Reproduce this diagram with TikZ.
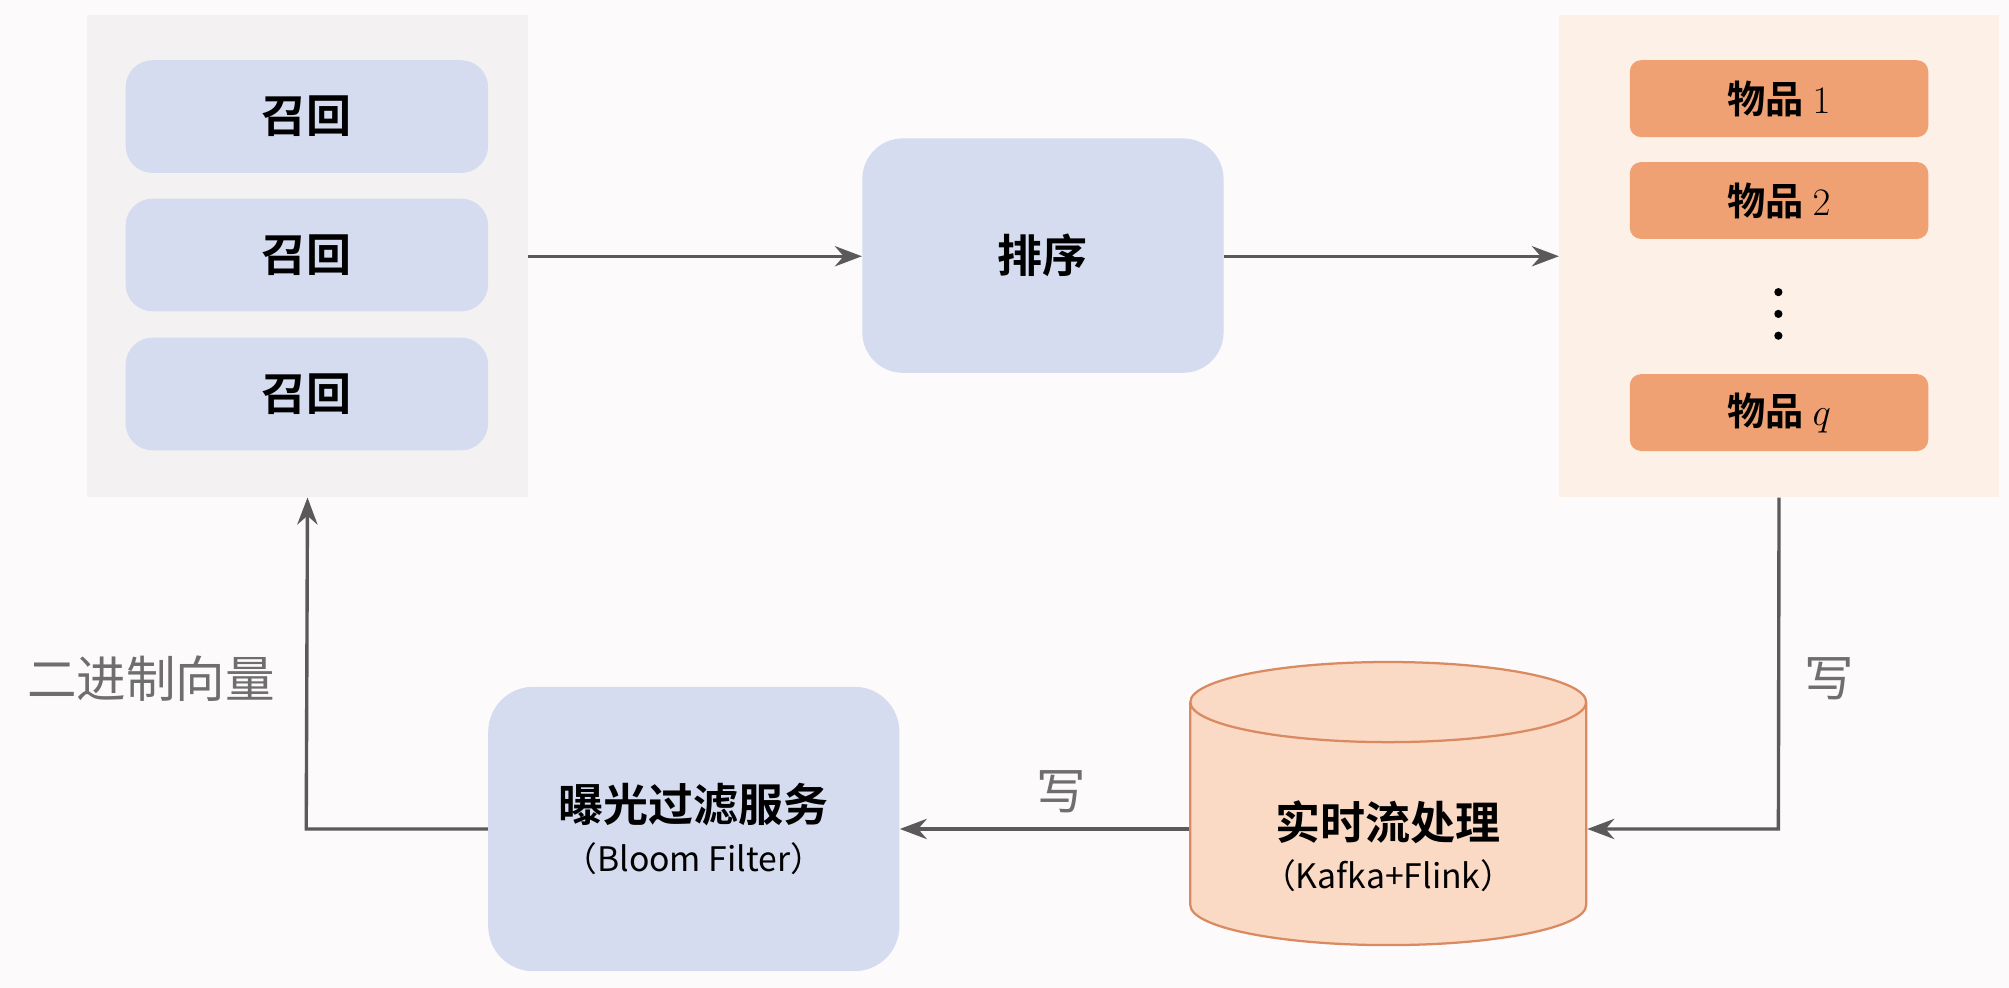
\documentclass[tikz,border=0pt]{standalone}
\usepackage{fontspec}
\newfontfamily\cjk{Noto Sans CJK SC}
\newfontfamily\cjkb{Noto Sans CJK SC Bold}
\usetikzlibrary{shapes.geometric,arrows.meta}
\definecolor{bg}{HTML}{FCFAFB}
\definecolor{lpanel}{HTML}{F4F1F2}
\definecolor{rpanel}{HTML}{FDF0E7}
\definecolor{bluebox}{HTML}{D5DCEF}
\definecolor{orbox}{HTML}{F0A173}
\definecolor{cylf}{HTML}{FAD9C5}
\definecolor{cyld}{HTML}{D98A60}
\definecolor{arr}{HTML}{5A5A5A}
\definecolor{lbl}{HTML}{6E6E6E}
\begin{document}
\begin{tikzpicture}[x=0.02cm,y=-0.02cm,
  blue/.style={fill=bluebox,draw=none,rounded corners=12pt,font=\cjkb\fontsize{20}{24}\selectfont},
  item/.style={fill=orbox,draw=none,rounded corners=5pt,minimum width=4.66cm,minimum height=1.2cm,font=\cjkb\fontsize{17}{20}\selectfont},
  ar/.style={draw=arr,line width=1.5pt,-{Stealth[length=12pt,width=9pt]}},
  lab/.style={text=lbl,font=\cjk\fontsize{22}{26}\selectfont}]
\useasboundingbox[fill=bg] (0,0) rectangle (1568,771);
\node[fill=lpanel,minimum width=6.88cm,minimum height=7.52cm,inner sep=0] (lp) at (240,200) {};
\node[fill=rpanel,minimum width=6.86cm,minimum height=7.52cm,inner sep=0] (rp) at (1388.5,200) {};
\node[blue,minimum width=5.66cm,minimum height=1.76cm] (r1) at (239.5,91) {召回};
\node[blue,minimum width=5.66cm,minimum height=1.76cm] (r2) at (239.5,199) {召回};
\node[blue,minimum width=5.66cm,minimum height=1.76cm] (r3) at (239.5,307.5) {召回};
\node[blue,rounded corners=18pt,minimum width=5.64cm,minimum height=3.66cm] (sort) at (814,199.5) {排序};
\node[item] (i1) at (1388.5,77) {物品 $1$};
\node[item] (i2) at (1388.5,156.5) {物品 $2$};
\node[item] (iq) at (1388.5,322) {物品 $q$};
\foreach \yy [count=\k] in {228,245,262} \fill (1388,\yy) circle (3.2) coordinate (d\k);
\node[blue,rounded corners=20pt,minimum width=6.42cm,minimum height=4.44cm,align=center] (flt) at (541.5,647) {曝光过滤服务\\[-2pt]{\cjk\fontsize{15}{18}\selectfont （Bloom Filter）}};
\node[cylinder,shape border rotate=90,aspect=0.3,draw=cyld,line width=1pt,fill=cylf,minimum width=6.18cm,minimum height=4.42cm,align=center,font=\cjkb\fontsize{20}{24}\selectfont] (cyl) at (1083.5,647.5) {\\[8pt]实时流处理\\[-2pt]{\cjk\fontsize{15}{18}\selectfont （Kafka+Flink）}};
\draw[ar] (lp.east |- 0,200) -- (sort.west |- 0,200);
\draw[ar] (sort.east |- 0,200) -- (rp.west |- 0,200);
\coordinate (c1) at (1388,647);
\draw[ar] (rp.south) -- (c1) -- (cyl.east |- c1);
\draw[ar] (cyl.west |- 0,647) -- (flt.east |- 0,647);
\coordinate (c2) at (239,647);
\draw[ar] (flt.west |- c2) -- (c2) -- (lp.south);
\node[lab] (w1) at (1428,530) {写};
\node[lab] (w2) at (828,618) {写};
\node[lab] (bv) at (118,530) {二进制向量};
\end{tikzpicture}
\end{document}
